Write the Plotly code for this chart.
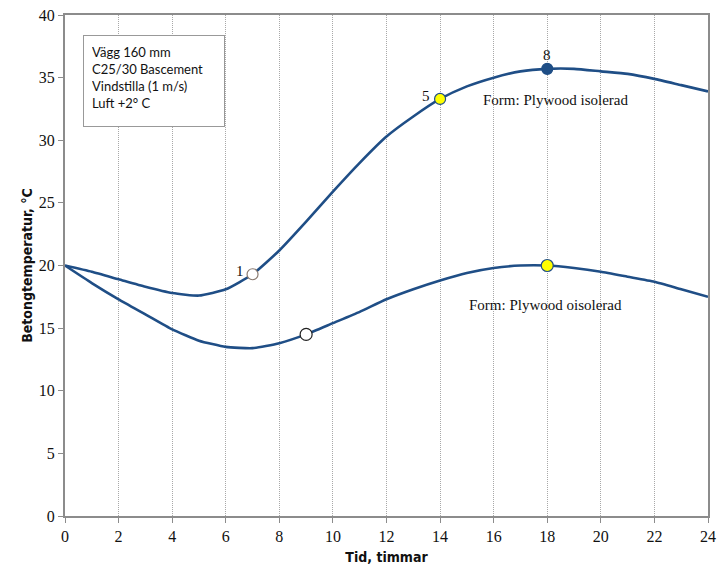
import plotly.graph_objects as go

hours = list(range(0, 25))
isolerad = [20.0, 19.5, 18.9, 18.3, 17.8, 17.6, 18.1, 19.3, 21.2, 23.5, 25.9, 28.2,
            30.3, 31.9, 33.3, 34.3, 35.0, 35.5, 35.7, 35.7, 35.5, 35.3, 34.9, 34.4, 33.9]
oisolerad = [20.0, 18.6, 17.3, 16.1, 14.9, 14.0, 13.5, 13.4, 13.8, 14.5, 15.4, 16.3,
             17.3, 18.1, 18.8, 19.4, 19.8, 20.0, 20.0, 19.8, 19.5, 19.1, 18.7, 18.1, 17.5]

x_ticks = list(range(0, 25, 2))
y_ticks = list(range(0, 41, 5))

info_lines = ["Vägg 160 mm", "C25/30 Bascement", "Vindstilla (1 m/s)", "Luft +2° C"]
label_isol = "Form: Plywood isolerad"
label_oisol = "Form: Plywood oisolerad"

# marked points: (hour, label, fill, outline)
iso_marks = [(7, "1", "white", "#8a7a70"), (14, "5", "#ffff00", "#1f4e86"), (18, "8", "#1f4e86", "#1f4e86")]
oiso_marks = [(9, "white", "#222222"), (18, "#ffff00", "#1f4e86")]

LINE = "#1f4e86"
fig = go.Figure()
fig.add_trace(go.Scatter(x=hours, y=isolerad, mode="lines",
                         line=dict(color=LINE, width=2.6, shape="spline", smoothing=0.5)))
fig.add_trace(go.Scatter(x=hours, y=oisolerad, mode="lines",
                         line=dict(color=LINE, width=2.6, shape="spline", smoothing=0.5)))

for h, lab, fc, lc in iso_marks:
    fig.add_trace(go.Scatter(x=[h], y=[isolerad[h]], mode="markers",
                             marker=dict(size=11, color=fc, line=dict(color=lc, width=1.2))))
for h, fc, lc in oiso_marks:
    fig.add_trace(go.Scatter(x=[h], y=[oisolerad[h]], mode="markers",
                             marker=dict(size=12, color=fc, line=dict(color=lc, width=1.2))))

serif = dict(family="Liberation Serif", size=15, color="#111111")
fig.add_annotation(x=7, y=isolerad[7], text="1", showarrow=False, xanchor="right", xshift=-7, yshift=3, font=serif)
fig.add_annotation(x=14, y=isolerad[14], text="5", showarrow=False, xanchor="right", xshift=-8, yshift=3, font=serif)
fig.add_annotation(x=18, y=isolerad[18], text="8", showarrow=False, yanchor="bottom", yshift=4, font=serif)

fig.add_annotation(x=18.3, y=33.2, text=label_isol, showarrow=False, font=serif)
fig.add_annotation(x=17.95, y=16.85, text=label_oisol, showarrow=False, font=serif)

fig.add_annotation(x=0.028, y=0.96, xref="paper", yref="paper", xanchor="left", yanchor="top",
                   text="<br>".join(info_lines), showarrow=False, align="left", valign="top",
                   width=124, height=74,
                   bordercolor="#999999", borderwidth=1, borderpad=8, bgcolor="white",
                   font=dict(family="Lato", size=13, color="#111111"))

fig.update_layout(
    width=717, height=570, showlegend=False,
    margin=dict(l=65, r=9, t=15, b=54, autoexpand=False),
    plot_bgcolor="white", paper_bgcolor="white",
    xaxis=dict(range=[0, 24], tickvals=x_ticks, showgrid=True, gridcolor="#a8a8a8", griddash="1px,1px",
               gridwidth=1, showline=True, linecolor="#8c8c8c", linewidth=2, mirror=True,
               ticks="outside", ticklen=5, tickcolor="#8c8c8c", zeroline=False, automargin=False,
               tickfont=dict(family="Liberation Serif", size=16, color="#111111"),
               title=dict(text="<b>Tid, timmar</b>", standoff=8,
                          font=dict(family="DejaVu Sans Condensed", size=14, color="#111111"))),
    yaxis=dict(range=[0, 40], tickvals=y_ticks, showgrid=False, showline=True, linecolor="#8c8c8c",
               linewidth=2, mirror=True, ticks="outside", ticklen=5, tickcolor="#8c8c8c", zeroline=False,
               automargin=False,
               tickfont=dict(family="Liberation Serif", size=16, color="#111111"),
               title=dict(text="<b>Betongtemperatur, °C</b>", standoff=3,
                          font=dict(family="DejaVu Sans Condensed", size=14, color="#111111"))),
)

fig.write_html("out.html")
